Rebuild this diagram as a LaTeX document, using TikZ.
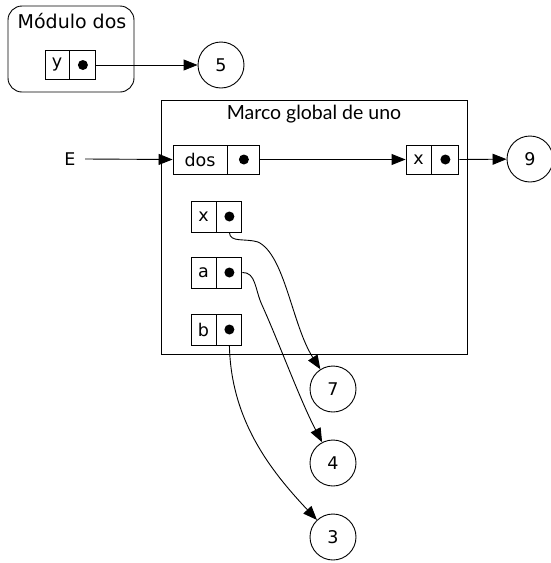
\documentclass[tikz,border=0pt]{standalone}
\usepackage{fontspec}
\setmainfont{DejaVu Sans}
\newfontfamily\latofont{Lato}
\usetikzlibrary{arrows.meta}
\begin{document}
\begin{tikzpicture}[x=1pt,y=-1pt,
  every node/.style={font=\fontsize{17.5}{20}\selectfont},
  cell/.style={draw,line width=0.9pt,minimum height=29pt,inner sep=0pt},
  val/.style={draw,circle,line width=0.9pt,minimum size=46pt,inner sep=0pt},
  arr/.style={line width=0.9pt,-{Triangle[length=14pt,width=11pt]}},
  frame/.style={draw,line width=0.9pt},
  ptrdot/.style={radius=5pt}]
\useasboundingbox (0,0) rectangle (551,563);
% Modulo dos
\draw[frame,rounded corners=14pt] (8,6) rectangle (134,92);
\node[font=\fontsize{19}{22}\selectfont] (tmod) at (72,21) {Módulo dos};
\node[cell,minimum width=24pt] (ylab) at (57,65) {y};
\node[cell,minimum width=26pt,anchor=west] (yptr) at (ylab.east) {};
\fill[ptrdot] (yptr.center) circle;
\node[val] (c5) at (221,65) {5};
\draw[arr] (yptr.east) -- (c5);
% Marco global
\draw[frame] (161,100) rectangle (467,354);
\node[font=\latofont\fontsize{19.5}{22}\selectfont] (tmarco) at (314,114) {Marco global de uno};
\node (E) at (70,159) {E};
\node[cell,minimum width=54pt] (doslab) at (200,159.5) {dos};
\node[cell,minimum width=32pt,anchor=west] (dosptr) at (doslab.east) {};
\fill[ptrdot] (dosptr.center) circle;
\draw[arr] (E.east) ++(6,0) coordinate (Es) (Es) -- (doslab.west);
\node[cell,minimum width=25pt] (x1lab) at (418.5,159.5) {x};
\node[cell,minimum width=27pt,anchor=west] (x1ptr) at (x1lab.east) {};
\fill[ptrdot] (x1ptr.center) circle;
\draw[arr] (dosptr.east) -- (x1lab.west);
\node[val] (c9) at (530,159) {9};
\draw[arr] (x1ptr.east) -- (c9);
% inner cells
\node[cell,minimum width=25pt,minimum height=31pt] (xlab) at (203.5,216.5) {x};
\node[cell,minimum width=25pt,minimum height=31pt,anchor=west] (xptr) at (xlab.east) {};
\fill[ptrdot] (xptr.center) circle;
\node[cell,minimum width=25pt,minimum height=31pt] (alab) at (203.5,272.5) {a};
\node[cell,minimum width=25pt,minimum height=31pt,anchor=west] (aptr) at (alab.east) {};
\fill[ptrdot] (aptr.center) circle;
\node[cell,minimum width=25pt,minimum height=31pt] (blab) at (203.5,329.5) {b};
\node[cell,minimum width=25pt,minimum height=31pt,anchor=west] (bptr) at (blab.east) {};
\fill[ptrdot] (bptr.center) circle;
% values
\node[val] (c7) at (333,389) {7};
\node[val] (c4) at (333,463) {4};
\node[val] (c3) at (333,537) {3};
\draw[arr] (xptr.south) .. controls (230,243) and (245,238) .. (258,242) .. controls (285,255) and (292,325) .. (c7);
\draw[arr] (aptr.east) .. controls (256,272) and (255,290) .. (262,305) .. controls (280,345) and (300,400) .. (c4);
\draw[arr] (bptr.south) .. controls (231,420) and (270,470) .. (c3);
\end{tikzpicture}
\end{document}
